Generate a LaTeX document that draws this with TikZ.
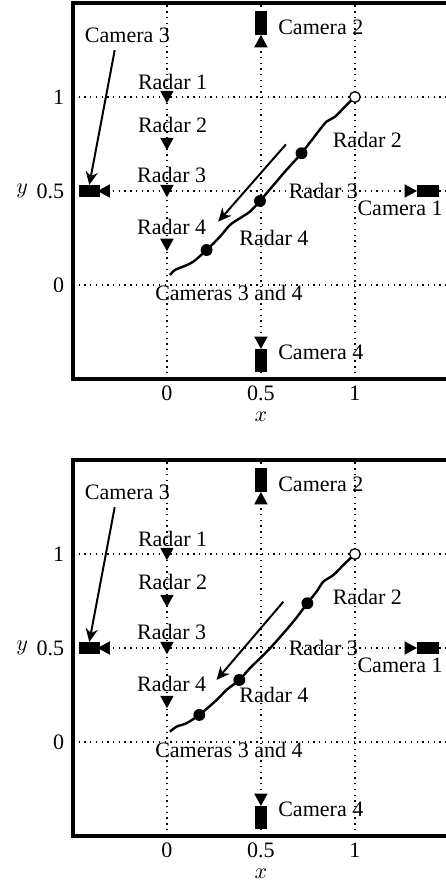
\documentclass[tikz,border=0pt]{standalone}
\usepackage{fontspec}
\setmainfont{Liberation Serif}
\usetikzlibrary{arrows.meta}

\begin{document}
\begin{tikzpicture}[x=3cm, y=3cm, font=\fontsize{10}{12}\selectfont,
    grid/.style={dotted, line width=0.6pt},
    frame/.style={line width=1.6pt},
    track/.style={line width=1.1pt, line join=round},
    dirarrow/.style={-{Stealth[length=6pt, width=5.5pt]}, line width=0.9pt},
    dot/.style={circle, fill, inner sep=0pt, minimum size=0.19cm},
    start/.style={circle, draw, fill=white, line width=0.6pt, inner sep=0pt, minimum size=0.17cm},
    camh/.style={fill, inner sep=0pt, minimum width=0.34cm, minimum height=0.18cm},
    camv/.style={fill, inner sep=0pt, minimum width=0.19cm, minimum height=0.37cm},
    tri/.pic={\fill (-0.036,0.033) -- (0.036,0.033) -- (0,-0.033) -- cycle;}]

    \useasboundingbox (-0.888,-3.197) rectangle (1.484,1.516);
    \clip (-0.888,-3.197) rectangle (1.484,1.516);

    \foreach \p/\dy in {a/0, b/-2.431} {
    \begin{scope}[shift={(0,\dy)}]
        \foreach \v in {0,0.5,1} {
            \draw[grid] (\v,-0.5) -- (\v,1.5);
            \draw[grid] (-0.5,\v) -- (1.6,\v);
        }
        \draw[frame] (1.6,1.5) -- (-0.5,1.5) -- (-0.5,-0.5) -- (1.6,-0.5);

        \node[anchor=east] (ya\p) at (-0.505,1) {1};
        \node[anchor=east] (yb\p) at (-0.505,0.5) {0.5};
        \node[anchor=east] (yc\p) at (-0.505,0) {0};
        \node (ylab\p) at (-0.77,0.5) {$y$};
        \node (xa\p) at (0,-0.574) {0};
        \node (xb\p) at (0.5,-0.574) {0.5};
        \node (xc\p) at (1,-0.574) {1};
        \node (xlab\p) at (0.5,-0.70) {$x$};

        % radars on x = 0
        \pic at (0,1) {tri};
        \pic at (0,0.75) {tri};
        \pic at (0,0.5) {tri};
        \pic at (0,0.213) {tri};
        \node (r1\p) at (0.03,1.08) {Radar 1};
        \node (r2\p) at (0.03,0.85) {Radar 2};
        \node (r3\p) at (0.025,0.585) {Radar 3};
        \node (r4\p) at (0.025,0.31) {Radar 4};

        % cameras
        \node[camh] (cam3\p) at (-0.413,0.5) {};
        \pic[rotate=-90] at (-0.336,0.5) {tri};
        \node[camh] (cam1\p) at (1.388,0.5) {};
        \pic[rotate=90] at (1.297,0.5) {tri};
        \node[camv] (cam2\p) at (0.5,1.394) {};
        \pic[rotate=180] at (0.5,1.297) {tri};
        \node[camv] (cam4\p) at (0.5,-0.402) {};
        \pic at (0.5,-0.307) {tri};

        \node (c3l\p) at (-0.21,1.33) {Camera 3};
        \node[anchor=west] (c2l\p) at (0.551,1.37) {Camera 2};
        \node[anchor=west] (c4l\p) at (0.551,-0.36) {Camera 4};
        \node (c1l\p) at (1.24,0.41) {Camera 1};
        \draw[dirarrow] (c3l\p.230) -- (cam3\p.north);

        \node (m2\p) at (1.066,0.77) {Radar 2};
        \node (m3\p) at (0.832,0.5) {Radar 3};
        \node (m4\p) at (0.569,0.252) {Radar 4};
        \node (c34\p) at (0.33,-0.04) {Cameras 3 and 4};
    \end{scope}
    }

    % upper track
    \draw[track] plot[smooth, tension=0.5] coordinates {(1,1) (0.955,0.957) (0.894,0.895)
        (0.849,0.869) (0.805,0.816) (0.778,0.780) (0.757,0.754) (0.716,0.701) (0.62,0.594)
        (0.495,0.447) (0.441,0.39) (0.388,0.355) (0.335,0.319) (0.282,0.257) (0.211,0.186)
        (0.14,0.124) (0.087,0.098) (0.043,0.08) (0.016,0.053)};
    \node[start] (sa) at (1,1) {};
    \node[dot] (ka1) at (0.716,0.701) {};
    \node[dot] (ka2) at (0.495,0.447) {};
    \node[dot] (ka3) at (0.211,0.186) {};
    \coordinate (ua) at (0.633,0.748);
    \coordinate (va) at (0.273,0.337);
    \draw[dirarrow] (ua) -- (va);

    % lower track
    \begin{scope}[shift={(0,-2.431)}]
        \draw[track] plot[smooth, tension=0.5] coordinates {(1,1) (0.947,0.95) (0.885,0.888)
            (0.832,0.853) (0.796,0.8) (0.747,0.738) (0.672,0.64) (0.548,0.498) (0.441,0.392)
            (0.385,0.33) (0.317,0.277) (0.264,0.223) (0.172,0.144) (0.104,0.1) (0.052,0.082)
            (0.016,0.055)};
        \node[start] (sb) at (1,1) {};
        \node[dot] (kb1) at (0.747,0.738) {};
        \node[dot] (kb2) at (0.385,0.33) {};
        \node[dot] (kb3) at (0.172,0.144) {};
        \coordinate (ub) at (0.619,0.746);
        \coordinate (vb) at (0.264,0.33);
        \draw[dirarrow] (ub) -- (vb);
    \end{scope}

\end{tikzpicture}
\end{document}
